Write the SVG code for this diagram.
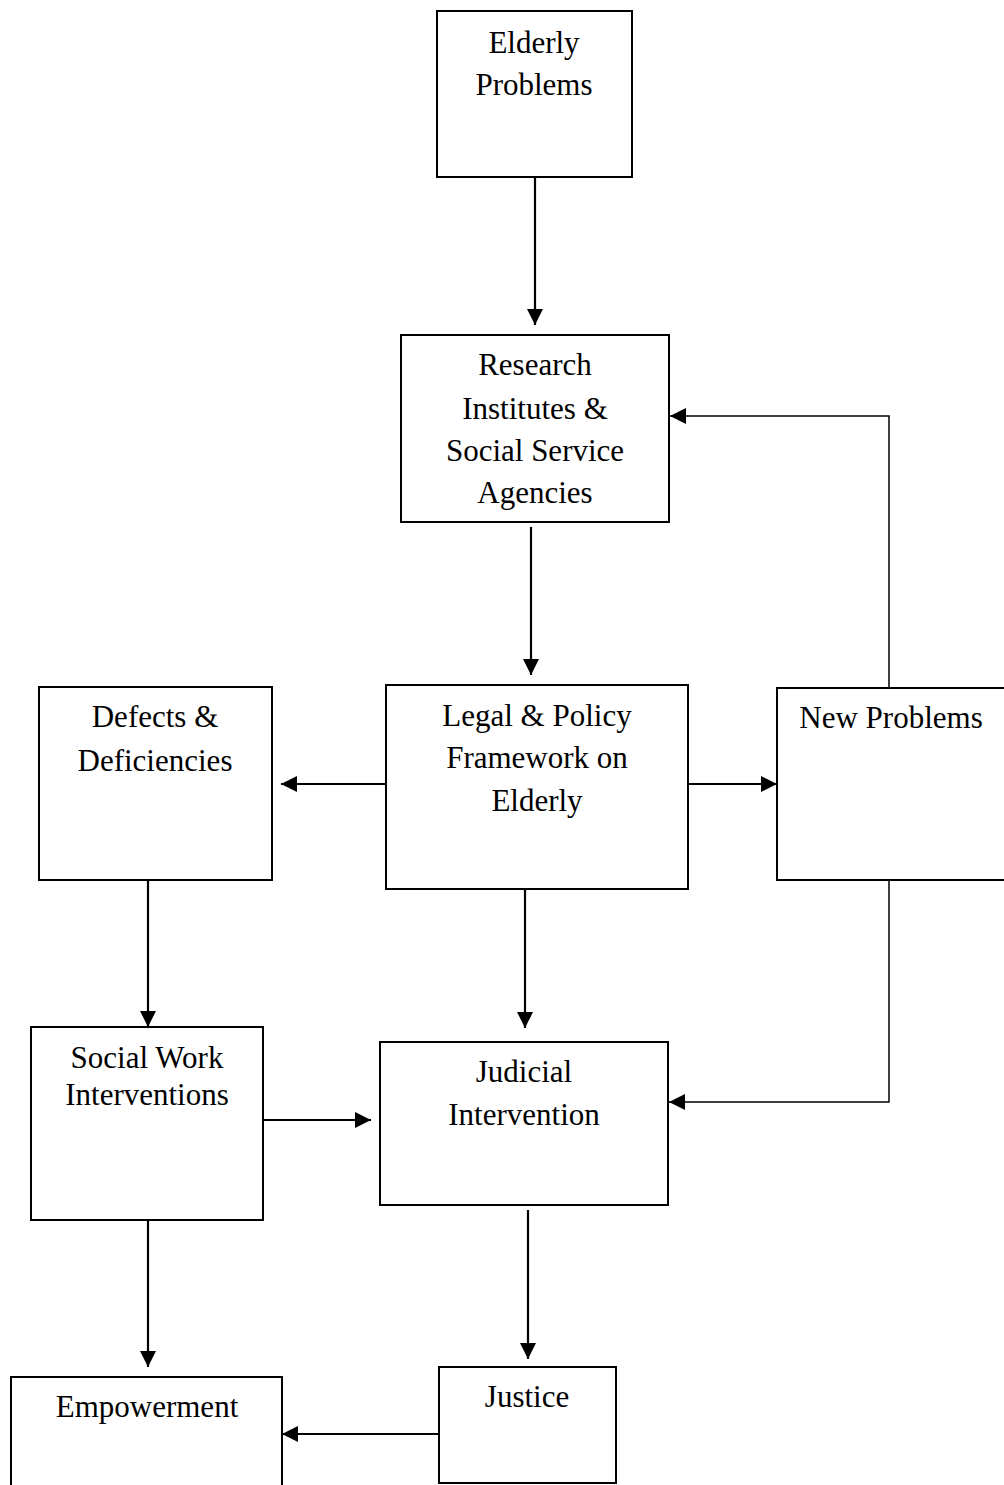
<svg xmlns="http://www.w3.org/2000/svg" width="1004" height="1485" viewBox="0 0 1004 1485">
<style>
  .box { fill: #fff; stroke: #000; stroke-width: 2; }
  .lbl { font-family: "Liberation Serif", "Times New Roman", serif; font-size: 31px; fill: #000; text-anchor: middle; }
  .conn { fill: none; stroke: #000; stroke-width: 2.2; }
  .thin { fill: none; stroke: #000; stroke-width: 1.5; }
</style>
<defs>
  <marker id="ah" markerUnits="userSpaceOnUse" markerWidth="17" markerHeight="16" refX="16" refY="8" orient="auto">
    <path d="M0,0 L16,8 L0,16 z" fill="#000"/>
  </marker>
</defs>
<rect width="1004" height="1485" fill="#fff"/>

<g id="connectors">
  <line class="conn" x1="535" y1="177" x2="535" y2="325" marker-end="url(#ah)"/>
  <line class="conn" x1="531" y1="527" x2="531" y2="675" marker-end="url(#ah)"/>
  <polyline class="thin" points="889,688 889,416 670,416" marker-end="url(#ah)"/>
  <line class="conn" x1="386" y1="784" x2="281" y2="784" marker-end="url(#ah)"/>
  <line class="conn" x1="688" y1="784" x2="777" y2="784" marker-end="url(#ah)"/>
  <line class="conn" x1="148" y1="880" x2="148" y2="1027" marker-end="url(#ah)"/>
  <line class="conn" x1="525" y1="889" x2="525" y2="1028" marker-end="url(#ah)"/>
  <polyline class="thin" points="889,880 889,1102 669,1102" marker-end="url(#ah)"/>
  <line class="conn" x1="263" y1="1120" x2="371" y2="1120" marker-end="url(#ah)"/>
  <line class="conn" x1="148" y1="1220" x2="148" y2="1367" marker-end="url(#ah)"/>
  <line class="conn" x1="528" y1="1210" x2="528" y2="1359" marker-end="url(#ah)"/>
  <line class="conn" x1="439" y1="1434" x2="282" y2="1434" marker-end="url(#ah)"/>
</g>

<g id="elderly-problems">
  <rect class="box" x="437" y="11" width="195" height="166"/>
  <text class="lbl" x="534" y="53">Elderly</text>
  <text class="lbl" x="534" y="95">Problems</text>
</g>

<g id="research-institutes">
  <rect class="box" x="401" y="335" width="268" height="187"/>
  <text class="lbl" x="535" y="375">Research</text>
  <text class="lbl" x="535" y="419">Institutes &amp;</text>
  <text class="lbl" x="535" y="461">Social Service</text>
  <text class="lbl" x="535" y="503">Agencies</text>
</g>

<g id="legal-policy">
  <rect class="box" x="386" y="685" width="302" height="204"/>
  <text class="lbl" x="537" y="726">Legal &amp; Policy</text>
  <text class="lbl" x="537" y="768">Framework on</text>
  <text class="lbl" x="537" y="811">Elderly</text>
</g>

<g id="defects">
  <rect class="box" x="39" y="687" width="233" height="193"/>
  <text class="lbl" x="155" y="727">Defects &amp;</text>
  <text class="lbl" x="155" y="771">Deficiencies</text>
</g>

<g id="new-problems">
  <rect class="box" x="777" y="688" width="240" height="192"/>
  <text class="lbl" x="891" y="728">New Problems</text>
</g>

<g id="social-work">
  <rect class="box" x="31" y="1027" width="232" height="193"/>
  <text class="lbl" x="147" y="1068">Social Work</text>
  <text class="lbl" x="147" y="1105">Interventions</text>
</g>

<g id="judicial">
  <rect class="box" x="380" y="1042" width="288" height="163"/>
  <text class="lbl" x="524" y="1082">Judicial</text>
  <text class="lbl" x="524" y="1125">Intervention</text>
</g>

<g id="justice">
  <rect class="box" x="439" y="1367" width="177" height="116"/>
  <text class="lbl" x="527" y="1407">Justice</text>
</g>

<g id="empowerment">
  <rect class="box" x="11" y="1377" width="271" height="130"/>
  <text class="lbl" x="147" y="1417">Empowerment</text>
</g>
</svg>
